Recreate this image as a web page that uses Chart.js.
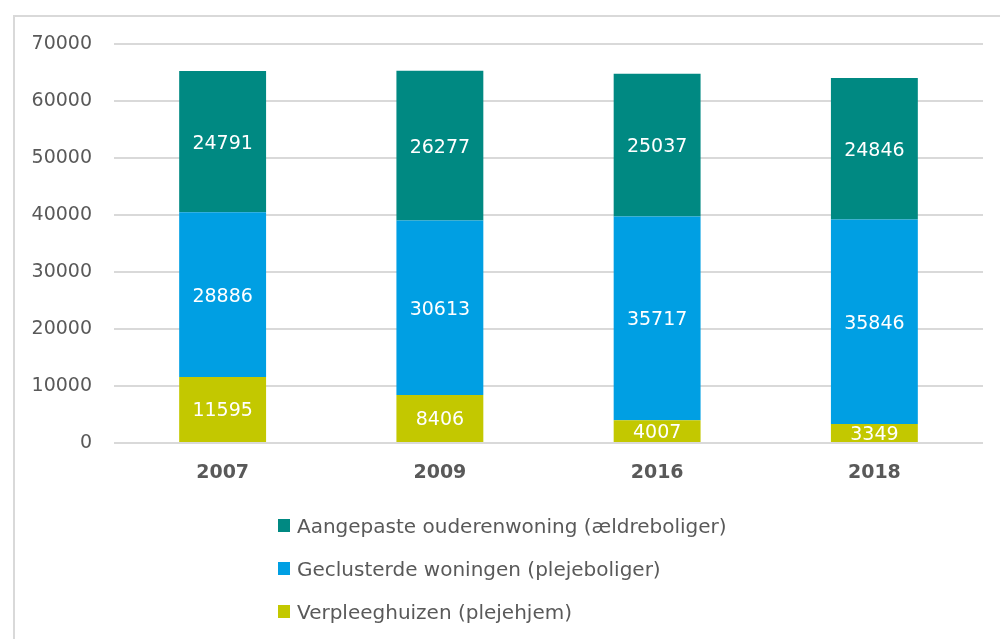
<!DOCTYPE html>
<html>
<head>
<meta charset="utf-8">
<script src="https://cdn.jsdelivr.net/npm/chart.js@4/dist/chart.umd.min.js"></script>
<style>
    html, body { margin: 0; padding: 0; background: #fff; overflow: hidden; }
    #wrap { position: relative; width: 1000px; height: 639px; }
    #frame {
        position: absolute; left: 13px; top: 15px; width: 1000px; height: 700px;
        border: 2px solid #d9d9d9; box-sizing: border-box;
    }
    #legend {
        position: absolute; left: 278px; top: 504px;
        font-family: "DejaVu Sans", sans-serif;
        font-size: 20px; color: #595959;
    }
    #legend .item { height: 43px; display: flex; align-items: center; }
    #legend .box { width: 12px; height: 13px; margin-right: 7px; }
</style>
</head>
<body>
<div id="wrap">
    <div id="frame"></div>
    <canvas id="chart" width="1000" height="639"></canvas>
    <div id="legend"></div>
</div>
<script>
// Data
const categories = ['2007', '2009', '2016', '2018'];
const verpleeghuizen = [11595, 8406, 4007, 3349];
const geclusterde = [28886, 30613, 35717, 35846];
const aangepaste = [24791, 26277, 25037, 24846];
const yTicks = [0, 10000, 20000, 30000, 40000, 50000, 60000, 70000];

const FONT = '"DejaVu Sans", sans-serif';
const TEXT_COLOR = '#595959';
const GRID_COLOR = '#d9d9d9';

// White value labels in the middle of each segment
const valueLabels = {
    id: 'valueLabels',
    afterDatasetsDraw(chart) {
        const ctx = chart.ctx;
        ctx.save();
        ctx.font = '19px ' + FONT;
        ctx.fillStyle = '#ffffff';
        ctx.textAlign = 'center';
        ctx.textBaseline = 'middle';
        chart.data.datasets.forEach((ds, i) => {
            const meta = chart.getDatasetMeta(i);
            meta.data.forEach((bar, j) => {
                const y = (bar.y + bar.base) / 2 + 2;
                ctx.fillText(String(ds.data[j]), bar.x, y);
            });
        });
        ctx.restore();
    }
};

const chart = new Chart(document.getElementById('chart'), {
    type: 'bar',
    data: {
        labels: categories,
        datasets: [
            { label: 'Verpleeghuizen (plejehjem)', data: verpleeghuizen, backgroundColor: '#c3c800' },
            { label: 'Geclusterde woningen (plejeboliger)', data: geclusterde, backgroundColor: '#009fe3' },
            { label: 'Aangepaste ouderenwoning (ældreboliger)', data: aangepaste, backgroundColor: '#008982' }
        ]
    },
    options: {
        responsive: false,
        animation: false,
        devicePixelRatio: 1,
        layout: { padding: { left: 13, top: 44, right: 17, bottom: 146 } },
        datasets: {
            bar: { categoryPercentage: 1, barPercentage: 0.4, borderWidth: 0 }
        },
        plugins: {
            legend: { display: false },
            tooltip: { enabled: false }
        },
        scales: {
            x: {
                stacked: true,
                grid: { display: false, drawTicks: false },
                border: { display: false },
                ticks: {
                    color: TEXT_COLOR,
                    font: { family: FONT, size: 19, weight: 'bold' },
                    padding: 19
                },
                afterFit(scale) { scale.height = 50; }
            },
            y: {
                stacked: true,
                min: 0,
                max: 70000,
                afterBuildTicks(scale) { scale.ticks = yTicks.map(v => ({ value: v })); },
                grid: { color: GRID_COLOR, lineWidth: 2, drawTicks: false },
                border: { display: false },
                ticks: {
                    color: TEXT_COLOR,
                    font: { family: FONT, size: 19, lineHeight: 1.0 },
                    padding: 22,
                    callback: v => String(v)
                },
                afterFit(scale) { scale.width = 101; }
            }
        }
    },
    plugins: [valueLabels]
});

// Vertical legend below the chart, top series first
function buildLegend() {
    const el = document.getElementById('legend');
    el.innerHTML = chart.data.datasets.slice().reverse().map(ds => `
        <div class="item">
            <span class="box" style="background:${ds.backgroundColor}"></span>
            <span>${ds.label}</span>
        </div>
    `).join('');
}
buildLegend();
</script>
</body>
</html>
